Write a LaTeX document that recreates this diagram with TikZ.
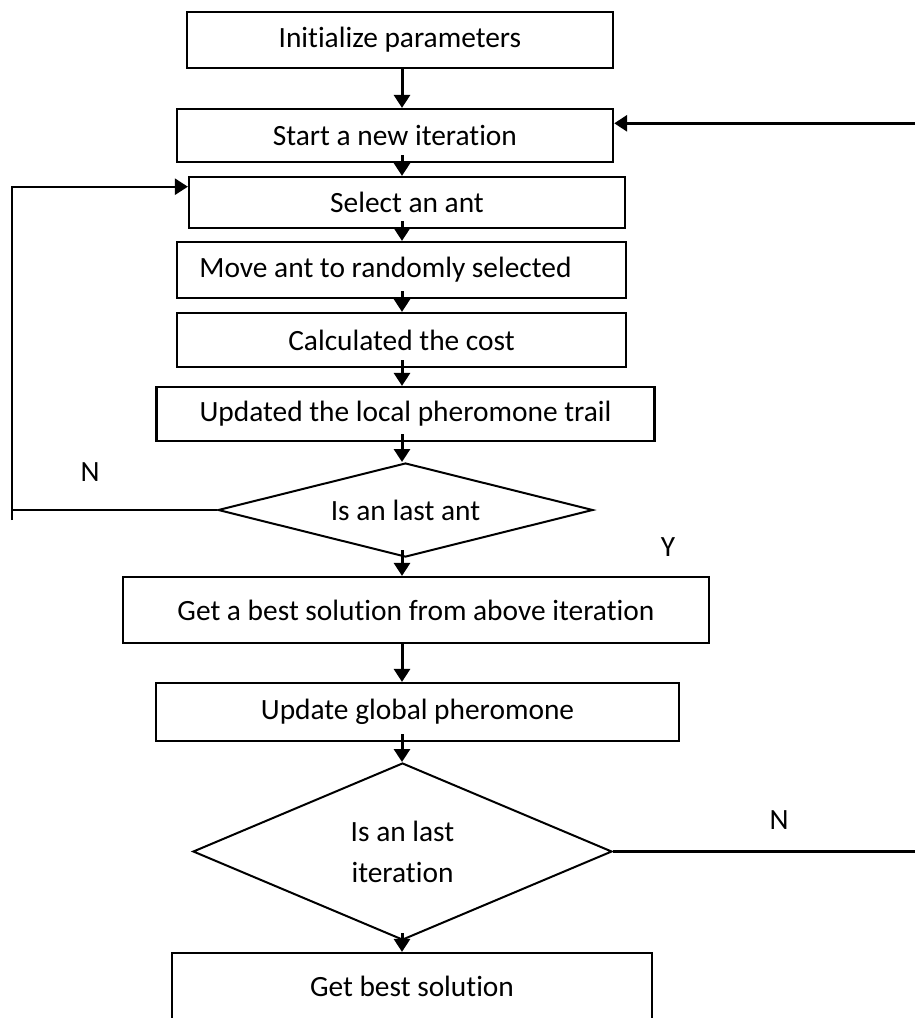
\documentclass[tikz,border=0pt]{standalone}
\usepackage{fontspec}
\setmainfont{Carlito}[Ligatures=NoCommon]
\usetikzlibrary{shapes.geometric,arrows.meta}
\begin{document}
\begin{tikzpicture}[x=0.5pt, y=-0.5pt, font=\fontsize{14.7}{20.5}\selectfont, >={Triangle[length=6.5pt,width=8pt]},
		box/.style={draw, line width=1.1pt, rectangle, inner sep=0pt},
		dec/.style={draw, line width=1pt, diamond, aspect=3, inner sep=0pt, align=center},
		arr/.style={->, line width=1.5pt},
		lnk/.style={line width=1.2pt}]
	\useasboundingbox (0,0) rectangle (915,1018);
	\clip (0,0) rectangle (915,1018);
	\coordinate (spine) at (402,0);
	% main column
	\node[box, minimum width=213.2pt, minimum height=28.3pt] (init) at (399.9,40) {Initialize parameters};
	\node[box, minimum width=218.2pt, minimum height=26.5pt] (start) at (394.9,135.5) {Start a new iteration};
	\node[box, minimum width=218pt, minimum height=25.5pt] (select) at (407,202.5) {Select an ant};
	\node[box, minimum width=224.5pt, minimum height=28pt] (move) at (401.5,270) {\hspace*{-16pt}Move ant to randomly selected};
	\node[box, minimum width=224.5pt, minimum height=27pt] (calc) at (401.5,340) {Calculated the cost};
	\node[box, minimum width=249pt, minimum height=27pt] (local) at (405.5,414) {Updated the local pheromone trail};
	\node[dec, minimum width=187.5pt, minimum height=47pt] (lastant) at (405.5,510) {Is an last ant};
	\node[box, minimum width=293.2pt, minimum height=33pt] (best) at (415.9,610) {Get a best solution from above iteration};
	\node[box, minimum width=261.5pt, minimum height=29pt] (global) at (417.5,712) {Update global pheromone};
	\node[dec, aspect=2, minimum width=209.5pt, minimum height=88.5pt] (lastit) at (402.5,851.5) {Is an last\\iteration};
	\node[box, minimum width=240pt, minimum height=37pt] (final) at (412,990) {\raisebox{3.5pt}{Get best solution}};
	% labels
	\node (nant) at (90,471.7) {N};
	\node (yant) at (668,547) {Y};
	\node (nit) at (779,820) {N};
	% arrows
	\foreach \a/\b in {init/start,best/global}{
		\draw[arr] (\a.south -| spine) -- (\b.north -| spine);}
	\foreach \a/\b in {start/select,select/move,move/calc,calc/local,local/lastant,lastant/best,global/lastit,lastit/final}{
		\draw[arr] ([yshift=4pt]\a.south -| spine) -- (\b.north -| spine);}
	% loops
	\coordinate (lbot) at (11.7,520); \coordinate (ltop) at (11.7,186.7);
	\draw[lnk] (lastant.west) -- (lastant.west -| lbot);
	\draw[lnk,->] (lbot) -- (ltop) -- (ltop -| select.west);
	\coordinate (rbot) at (935,851.5); \coordinate (rtop) at (935,123.3);
	\draw[lnk] (lastit.east) -- (rbot) -- (rtop);
	\draw[arr] (rtop) -- (rtop -| start.east);
\end{tikzpicture}
\end{document}
